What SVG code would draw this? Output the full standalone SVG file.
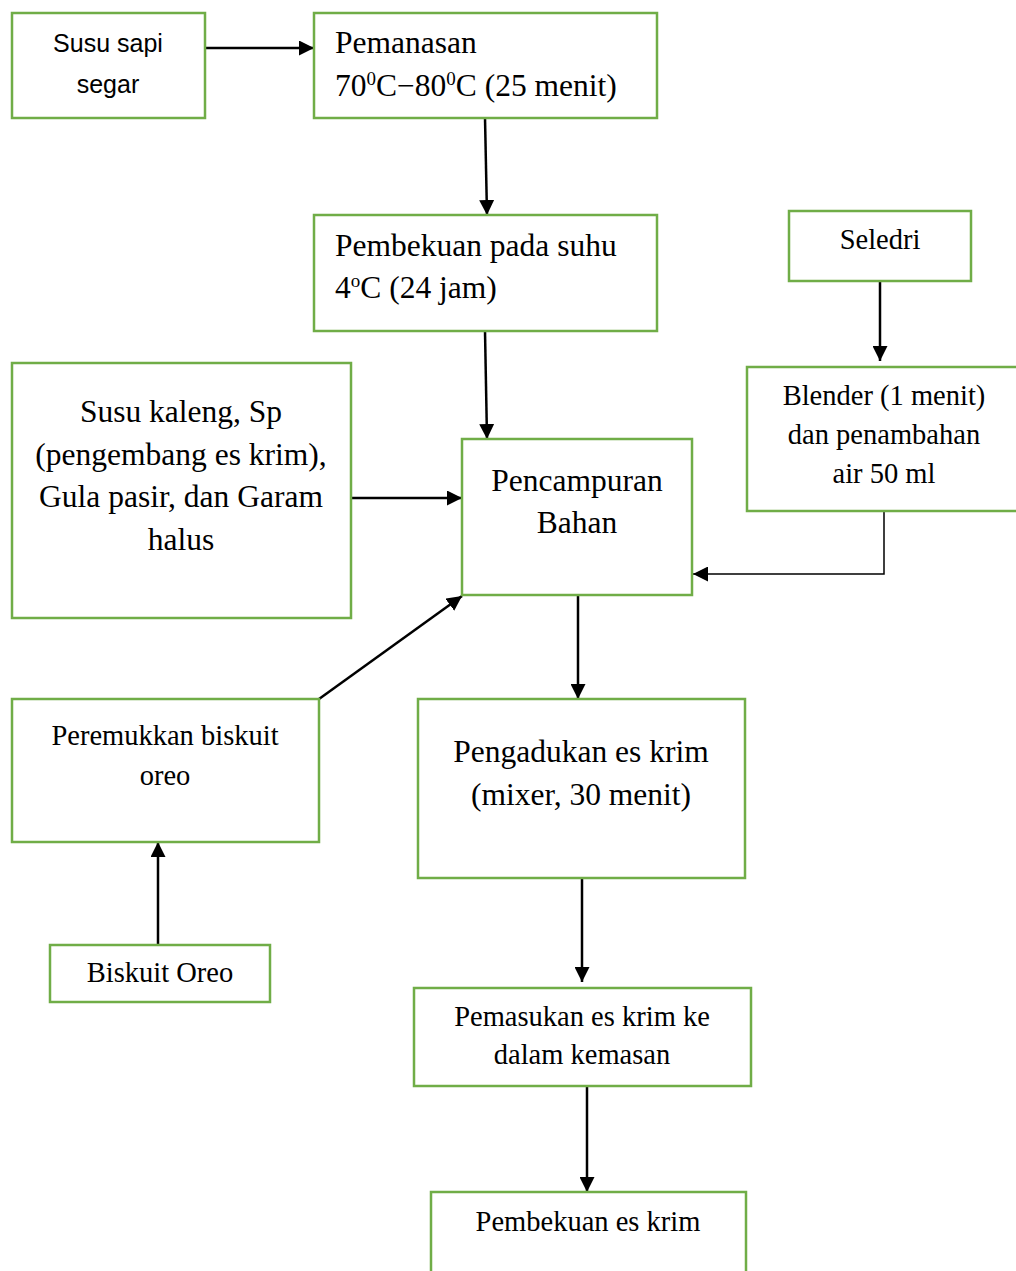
<svg xmlns="http://www.w3.org/2000/svg" width="1016" height="1271" viewBox="0 0 1016 1271">
<style>
.box{fill:#fff;stroke:#70AD47;stroke-width:2.5}
.t{font-family:"Liberation Serif","Times New Roman",serif;font-size:31.5px;fill:#000}
.s{font-family:"Liberation Serif","Times New Roman",serif;font-size:28.5px;fill:#000}
.sans{font-family:"Liberation Sans",Arial,sans-serif;font-size:25px;fill:#000}
.c{text-anchor:middle}
.ln{stroke:#000;stroke-width:2.5;fill:none}
.thin{stroke:#000;stroke-width:1.5;fill:none}
</style>
<defs>
<marker id="ah" viewBox="0 0 12 12" refX="12" refY="6" markerWidth="15" markerHeight="15" markerUnits="userSpaceOnUse" orient="auto">
<path d="M0,0 L12,6 L0,12 Z" fill="#000"/>
</marker>
</defs>
<rect width="1016" height="1271" fill="#fff"/>
<g id="connectors">
<line class="ln" x1="205" y1="48" x2="314" y2="48" marker-end="url(#ah)"/>
<line class="ln" x1="485" y1="118" x2="487" y2="215" marker-end="url(#ah)"/>
<line class="ln" x1="485" y1="331" x2="487" y2="439" marker-end="url(#ah)"/>
<line class="ln" x1="880" y1="281" x2="880" y2="361" marker-end="url(#ah)"/>
<line class="ln" x1="351" y1="498" x2="462" y2="498" marker-end="url(#ah)"/>
<polyline class="thin" points="884,511 884,574 693,574" marker-end="url(#ah)"/>
<line class="ln" x1="319" y1="699" x2="462" y2="596" marker-end="url(#ah)"/>
<line class="ln" x1="578" y1="595" x2="578" y2="699" marker-end="url(#ah)"/>
<line class="ln" x1="158" y1="945" x2="158" y2="842" marker-end="url(#ah)"/>
<line class="ln" x1="582" y1="878" x2="582" y2="982" marker-end="url(#ah)"/>
<line class="ln" x1="587" y1="1086" x2="587" y2="1192" marker-end="url(#ah)"/>
</g>
<g id="susu-sapi">
<rect class="box" x="12" y="13" width="193" height="105"/>
<text class="sans c" x="108" y="52">Susu sapi</text>
<text class="sans c" x="108" y="93">segar</text>
</g>
<g id="pemanasan">
<rect class="box" x="314" y="13" width="343" height="105"/>
<text class="t" x="335" y="53">Pemanasan</text>
<text class="t" x="335" y="96">70<tspan font-size="19" dy="-11">0</tspan><tspan dy="11">C−80</tspan><tspan font-size="19" dy="-11">0</tspan><tspan dy="11">C (25 menit)</tspan></text>
</g>
<g id="pembekuan-suhu">
<rect class="box" x="314" y="215" width="343" height="116"/>
<text class="t" x="335" y="256">Pembekuan pada suhu</text>
<text class="t" x="335" y="298">4<tspan font-size="19" dy="-11">o</tspan><tspan dy="11">C (24 jam)</tspan></text>
</g>
<g id="seledri">
<rect class="box" x="789" y="211" width="182" height="70"/>
<text class="s c" x="880" y="249">Seledri</text>
</g>
<g id="blender">
<rect class="box" x="747" y="367" width="275" height="144"/>
<text class="s c" x="884" y="405">Blender (1 menit)</text>
<text class="s c" x="884" y="444">dan penambahan</text>
<text class="s c" x="884" y="483">air 50 ml</text>
</g>
<g id="susu-kaleng">
<rect class="box" x="12" y="363" width="339" height="255"/>
<text class="t c" x="181" y="422">Susu kaleng, Sp</text>
<text class="t c" x="181" y="465">(pengembang es krim),</text>
<text class="t c" x="181" y="507">Gula pasir, dan Garam</text>
<text class="t c" x="181" y="550">halus</text>
</g>
<g id="pencampuran">
<rect class="box" x="462" y="439" width="230" height="156"/>
<text class="t c" x="577" y="491">Pencampuran</text>
<text class="t c" x="577" y="533">Bahan</text>
</g>
<g id="peremukkan">
<rect class="box" x="12" y="699" width="307" height="143"/>
<text class="s c" x="165" y="745">Peremukkan biskuit</text>
<text class="s c" x="165" y="785">oreo</text>
</g>
<g id="pengadukan">
<rect class="box" x="418" y="699" width="327" height="179"/>
<text class="t c" x="581" y="762">Pengadukan es krim</text>
<text class="t c" x="581" y="805">(mixer, 30 menit)</text>
</g>
<g id="biskuit-oreo">
<rect class="box" x="50" y="945" width="220" height="57"/>
<text class="s c" x="160" y="982">Biskuit Oreo</text>
</g>
<g id="pemasukan">
<rect class="box" x="414" y="988" width="337" height="98"/>
<text class="s c" x="582" y="1026">Pemasukan es krim ke</text>
<text class="s c" x="582" y="1064">dalam kemasan</text>
</g>
<g id="pembekuan-es">
<rect class="box" x="431" y="1192" width="315" height="90"/>
<text class="s c" x="588" y="1231">Pembekuan es krim</text>
</g>
</svg>
